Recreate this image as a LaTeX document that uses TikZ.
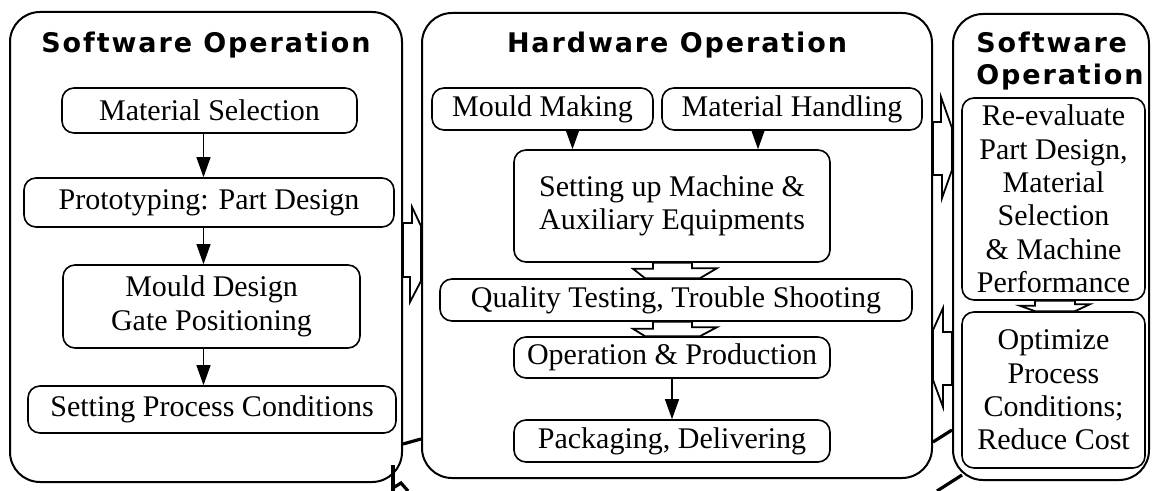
\documentclass[tikz,border=0pt]{standalone}
\usepackage{fontspec}
\setmainfont{Liberation Serif}
\newfontfamily\headfont[LetterSpace=7]{DejaVu Sans}
\usetikzlibrary{arrows.meta,calc}

\begin{document}
\begin{tikzpicture}[x=0.5pt, y=-0.5pt,
    panel/.style={draw, line width=1pt, rounded corners=15pt},
    stepbox/.style={draw, line width=0.8pt, rounded corners=6pt, align=center, inner sep=1pt,
                    font=\fontsize{15}{16.7}\selectfont},
    heading/.style={align=center, font=\headfont\bfseries\fontsize{13.5}{16}\selectfont},
    flow/.style={line width=0.6pt, -{Triangle[length=10pt, width=7pt]}},
    hollow/.style={draw, line width=0.9pt, fill=white, line join=miter},
    stroke/.style={line width=1.6pt},
]
\useasboundingbox (0,0) rectangle (1154,491);

% the three operation panels
\node[panel, minimum width=196pt, minimum height=235pt] (P1) at (206,247) {};
\node[panel, minimum width=255pt, minimum height=232.5pt] (P2) at (677,245.5) {};
\node[panel, minimum width=98pt, minimum height=233pt] (P3) at (1051,247) {};

\node[heading] (T1) at (206,45) {Software Operation};
\node[heading] (T2) at (677,45) {Hardware Operation};
\node[heading, align=left, anchor=west, inner sep=0pt] (T3) at (976,61) {Software\\Operation};

% software side
\node[stepbox, minimum width=147.5pt, minimum height=22.5pt] (S1) at (209.5,110.5) {Material Selection};
\node[stepbox, minimum width=185pt, minimum height=24.5pt] (S2) at (209,202.5) {Prototyping: Part Design};
\node[stepbox, minimum width=148.5pt, minimum height=41.5pt] (S3) at (211.5,306.5) {Mould Design\\Gate Positioning};
\node[stepbox, minimum width=184pt, minimum height=23.5pt] (S4) at (212,409.5) {Setting Process Conditions};

% hardware side
\node[stepbox, minimum width=110.5pt, minimum height=21pt] (H1) at (542.5,109) {Mould Making};
\node[stepbox, minimum width=130pt, minimum height=21pt] (H2) at (792,109) {Material Handling};
\node[stepbox, minimum width=158pt, minimum height=56pt] (H3) at (672,206) {Setting up Machine \&\\Auxiliary Equipments};
\node[stepbox, minimum width=236pt, minimum height=21pt] (H4) at (676,300) {Quality Testing, Trouble Shooting};
\node[stepbox, minimum width=158pt, minimum height=20.5pt] (H5) at (672,357.5) {Operation \& Production};
\node[stepbox, minimum width=158pt, minimum height=21pt] (H6) at (672,441) {Packaging, Delivering};

% re-evaluation side
\node[stepbox, minimum width=91.5pt, minimum height=101pt] (R1) at (1053.5,199)
    {Re-evaluate\\Part Design,\\Material\\Selection\\\& Machine\\Performance};
\node[stepbox, minimum width=91.5pt, minimum height=78pt] (R2) at (1053.5,390)
    {Optimize\\Process\\Conditions;\\Reduce Cost};

% thin arrows
\draw[flow] ([xshift=-3pt]S1.south) -- ([xshift=-3pt]S1.south |- S2.north);
\draw[flow] ([xshift=-3pt]S1.south |- S2.south) -- ([xshift=-3pt]S1.south |- S3.north);
\draw[flow] ([xshift=-3pt]S1.south |- S3.south) -- ([xshift=-3pt]S1.south |- S4.north);
\draw[flow] ([xshift=15pt]H1.south) -- ([xshift=15pt]H1.south |- H3.north);
\draw[flow] ([xshift=-17pt]H2.south) -- ([xshift=-17pt]H2.south |- H3.north);
\draw[flow] (H5.south) -- (H6.north);

% hollow block arrows
\draw[hollow] (P1.east |- 0,223) -- ++(9,0) -- ++(0,-16) -- (P2.west |- 0,226)
    -- (P2.west |- 0,281) -- ++(-11,21) -- ++(0,-25) -- (P1.east |- 0,277) -- cycle;
\draw[hollow] (P2.east |- 0,122) -- ++(8,0) -- ++(0,-25) -- (P3.west |- 0,128)
    -- (P3.west |- 0,170) -- ++(-10,28) -- ++(0,-23) -- (P2.east |- 0,175) -- cycle;
\draw[hollow] (P3.west |- 0,332) -- ++(-9,0) -- ++(0,-24) -- (P2.east |- 0,330)
    -- (P2.east |- 0,380) -- ++(10,27) -- ++(0,-22) -- (P3.west |- 0,385) -- cycle;
\draw[hollow] (H3.south -| 653,0) -- ++(0,6) -- ++(-20,0) -- (H4.north -| 645,0)
    -- (H4.north -| 700,0) -- ++(17,-10) -- ++(-25,0) -- (H3.south -| 692,0) -- cycle;
\draw[hollow] (H4.south -| 653,0) -- ++(0,7) -- ++(-20,0) -- (H5.north -| 645,0)
    -- (H5.north -| 700,0) -- ++(17,-9) -- ++(-25,0) -- (H4.south -| 692,0) -- cycle;
\draw[hollow] (R1.south -| 1035,0) -- ++(0,5) -- ++(-15,0) -- (R2.north -| 1035,0)
    -- (R2.north -| 1075,0) -- ++(15,-7) -- ++(-15,0) -- (R1.south -| 1075,0) -- cycle;

% feedback line running behind the panels
\coordinate (F1) at (393,465);
\coordinate (F2) at (937,491);
\draw[stroke] (P1.east |- 0,444) -- (P2.west |- 0,439);
\draw[stroke] (P2.east |- 0,442) -- (P3.west |- 0,430);
\draw[stroke] (F2) -- ++(25,-16);
\draw[stroke] (F1) -- ++(0,26);
\draw[stroke] (F1) ++(0,23) -- ++(8,-5) -- ++(7,8);
\end{tikzpicture}
\end{document}
